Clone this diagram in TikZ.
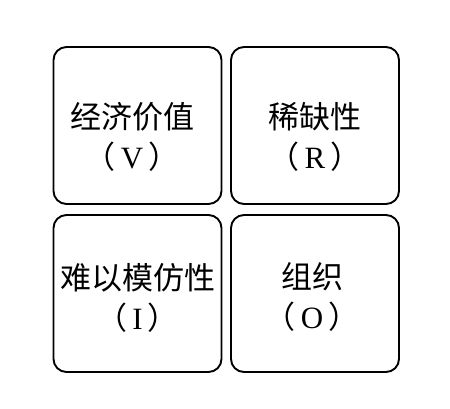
\documentclass[tikz,border=0pt]{standalone}
\usepackage{fontspec}
\setmainfont{Liberation Serif}
\newfontfamily\cjk{Noto Sans CJK SC}
\begin{document}
\begin{tikzpicture}[
    x=1pt, y=1pt,
    box/.style={rectangle, draw, rounded corners=13pt, line width=1.9pt, minimum width=168pt, minimum height=157pt},
    label/.style={align=center, font=\fontsize{31}{40}\selectfont}
]
\useasboundingbox (0,0) rectangle (450,408);

% the four boxes
\node[box] (value) at (137.5, 282.5) {};
\node[box] (rarity) at (315, 282.5) {};
\node[box] (imitate) at (137.5, 114.5) {};
\node[box] (organ) at (315, 114.5) {};

% texts
\node[label] (valuetext) at (132, 271) {{\cjk 经济价值}\\{\cjk （}\,V\,{\cjk ）}};
\node[label] (raritytext) at (315, 271) {{\cjk 稀缺性}\\{\cjk （}\,R\,{\cjk ）}};
\node[label] (imitatetext) at (137.5, 110) {{\cjk 难以模仿性}\\{\cjk （}\,I\,{\cjk ）}};
\node[label] (organtext) at (312, 111) {{\cjk 组织}\\{\cjk （}\,O\,{\cjk ）}};

\end{tikzpicture}
\end{document}
